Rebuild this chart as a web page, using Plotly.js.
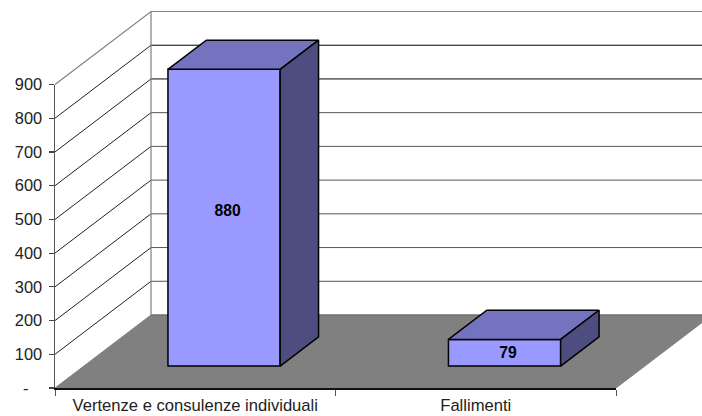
<!DOCTYPE html>
<html><head><meta charset="utf-8">
<script src="https://cdn.plot.ly/plotly-3.0.1.min.js"></script>
<style>html,body{margin:0;padding:0;background:#fff}</style>
</head><body><div id="chart" style="width:702px;height:416px"></div>
<script>
const categories = ["Vertenze e consulenze individuali", "Fallimenti"];
const values = [880, 79];
const yTicks = [0, 100, 200, 300, 400, 500, 600, 700, 800, 900];
const yTickText = ["-   ", "100", "200", "300", "400", "500", "600", "700", "800", "900"];

const W = 702, H = 416;
const plotL = 55, plotR = 616, plotT = 84.5, plotB = 388;
const xMax = 2, yMax = 900;
const pxX = (plotR - plotL) / xMax, pxY = (plotB - plotT) / yMax;
// oblique projection of the depth axis, in axis units
const depthX = 96 / pxX, depthY = 73 / pxY;
const barFront = 0.30, barBack = 0.70, barHalf = 0.2;
const prj = (x, y, d) => [x + d * depthX, y + d * depthY];
function poly(pts, extra) {
  return Object.assign({ x: pts.map(p => p[0]), y: pts.map(p => p[1]), type: 'scatter', mode: 'lines',
    cliponaxis: false, hoverinfo: 'skip', showlegend: false }, extra);
}
const traces = [];
// floor
traces.push(poly([prj(0,0,0), prj(xMax,0,0), prj(xMax,0,1), prj(0,0,1), prj(0,0,0)],
  { fill: 'toself', fillcolor: '#808080', line: { color: '#808080', width: 1 } }));
traces.push(poly([prj(0,0,1), prj(xMax,0,1)], { line: { color: '#666', width: 1 } }));
// gridlines: wall diagonal in dark, back wall horizontal slightly softer for the lower ones
yTicks.slice(1, -1).forEach((t) => {
  traces.push(poly([prj(0,t,0), prj(0,t,1)], { line: { color: '#222', width: 1 } }));
  traces.push(poly([prj(0,t,1), prj(xMax,t,1)], { line: { color: t >= 700 ? '#000' : '#555', width: 1 } }));
});
// top of the walls and back corner
traces.push(poly([prj(0,yMax,0), prj(0,yMax,1), prj(xMax,yMax,1)], { line: { color: '#808080', width: 1.2 } }));
traces.push(poly([prj(0,0,1), prj(0,yMax,1)], { line: { color: '#808080', width: 1.2 } }));

// bars (overlay subplot, above floor and grid)
const centres = categories.map((c, i) => i + 0.5);
const base = prj(0, 0, barFront)[1];
const shift = prj(0, 0, barFront)[0];
traces.push({
  type: 'bar', x: centres.map(c => c + shift), y: values, base: values.map(() => base), width: barHalf * 2,
  xaxis: 'x2', yaxis: 'y2', cliponaxis: false, hoverinfo: 'skip', showlegend: false,
  marker: { color: '#9999FF', line: { color: '#000', width: 1.5 } }
});
const outline = { color: '#000', width: 1.5 };
values.forEach((v, i) => {
  const x0 = centres[i] - barHalf, x1 = centres[i] + barHalf;
  traces.push(poly([prj(x0,v,barFront), prj(x1,v,barFront), prj(x1,v,barBack), prj(x0,v,barBack), prj(x0,v,barFront)],
    { xaxis: 'x2', yaxis: 'y2', fill: 'toself', fillcolor: '#7373BF', line: outline }));
  traces.push(poly([prj(x1,0,barFront), prj(x1,0,barBack), prj(x1,v,barBack), prj(x1,v,barFront), prj(x1,0,barFront)],
    { xaxis: 'x2', yaxis: 'y2', fill: 'toself', fillcolor: '#4D4D80', line: outline }));
});
// value labels
traces.push({
  type: 'scatter', mode: 'text', xaxis: 'x2', yaxis: 'y2', cliponaxis: false, hoverinfo: 'skip', showlegend: false,
  x: centres.map(c => c + shift + 0.0125), y: values.map(v => base - 6 + v * 0.525), text: values.map(String),
  textposition: 'middle center', textfont: { family: 'Liberation Sans', size: 15.7, color: '#000', weight: 700 }
});
// carrier for the visible axes
traces.push({ type: 'scatter', mode: 'markers', x: [null], y: [null], xaxis: 'x3', yaxis: 'y3', hoverinfo: 'skip', showlegend: false });

const yFont = { family: 'Liberation Sans', size: 16.4, color: '#222' };
const xFont = { family: 'Liberation Sans', size: 16.6, color: '#222' };
const fullX = [-plotL / pxX, (W - plotL) / pxX];
const fullY = [-(H - plotB) / pxY, plotB / pxY];
const layout = {
  width: W, height: H, margin: { l: 0, r: 0, t: 0, b: 0, pad: 0 },
  paper_bgcolor: '#fff', plot_bgcolor: 'rgba(0,0,0,0)', showlegend: false,
  xaxis: { domain: [0, 1], range: fullX, visible: false, fixedrange: true },
  yaxis: { domain: [0, 1], range: fullY, visible: false, fixedrange: true },
  xaxis2: { range: fullX, overlaying: 'x', visible: false, fixedrange: true },
  yaxis2: { range: fullY, overlaying: 'y', visible: false, fixedrange: true },
  xaxis3: { domain: [plotL / W, plotR / W], anchor: 'y3', range: [0, xMax], tickmode: 'array', tickvals: centres, ticktext: categories, ticks: '',
    showgrid: false, zeroline: false, showline: true, linecolor: '#111', linewidth: 1.5, tickfont: xFont, ticklabelstandoff: 2, fixedrange: true,
    minor: { ticks: 'outside', ticklen: 6, tickwidth: 1, tickcolor: '#555', tick0: 0, dtick: 1, showgrid: false } },
  yaxis3: { domain: [(H - plotB) / H, (H - plotT) / H], anchor: 'x3', range: [0, yMax], tickmode: 'array', tickvals: yTicks, ticktext: yTickText,
    ticks: 'outside', ticklen: 5, tickwidth: 1.2, tickcolor: '#444', ticklabelstandoff: 3,
    showgrid: false, zeroline: false, showline: true, linecolor: '#555', linewidth: 1.5, tickfont: yFont, fixedrange: true },
  barmode: 'overlay'
};
Plotly.newPlot('chart', traces, layout, { displayModeBar: false, staticPlot: true });
</script></body></html>
